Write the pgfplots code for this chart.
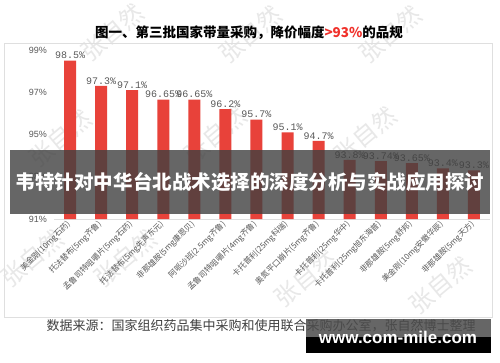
\documentclass[border=0pt]{standalone}
\usepackage{pgfplots}
\pgfplotsset{compat=1.18}
\usepackage{fontspec}
\setmainfont{Liberation Sans}
\newfontfamily\cjk{Noto Sans CJK SC}
\newfontfamily\mono{Liberation Mono}
\definecolor{barred}{HTML}{E8423A}
\definecolor{lab}{HTML}{595959}
\definecolor{titlered}{HTML}{F0302A}
\pgfplotstableread{
x y
0 98.5
1 97.3
2 97.1
3 96.65
4 96.65
5 96.2
6 95.7
7 95.1
8 94.7
9 93.8
10 93.74
11 93.65
12 93.4
13 93.3
}\drugs
\begin{document}
\begin{tikzpicture}
\path[use as bounding box, fill=white] (0,0) rectangle (500pt,362pt);
% watermarks
\foreach \px/\py in {112/32,250/34,390/34,60/138,215/135,365/135,32/258,125/258,305/278,440/285}{
  \node[rotate=40, text=gray!18, font=\cjk\fontsize{24}{24}\selectfont] at (\px pt,362pt-\py pt) {张自然};
}
\draw[gray!25, line width=0.8pt] (4.5pt,318.5pt) rectangle (492pt,45pt);
\node[font=\cjk\bfseries\fontsize{13.5}{14}\selectfont, text=black] at (249pt,362pt-33pt)
  {图一、第三批国家带量采购，降价幅度{\color{titlered}>93\%}的品规};
\begin{axis}[
  at={(54.5pt,143pt)}, anchor=south west,
  scale only axis, width=435pt, height=181.675pt,
  xmin=-0.5, xmax=13.5, ymin=91, ymax=99.6,
  ytick={91,93,95,97,99},
  yticklabel={\pgfmathprintnumber{\tick}\%},
  /pgf/number format/assume math mode=true,
  yticklabel style={font=\fontsize{9}{9}\selectfont, text=lab, xshift=-4pt},
  axis x line=bottom, axis y line=left,
  x axis line style={draw=gray!25, line width=1pt, -},
  y axis line style={draw=none},
  major tick length=0pt,
  xtick=data,
  xticklabels={美金刚(10mg石药),托法替布(5mg齐鲁),孟鲁司特咀嚼片(5mg石药),托法替布(5mg先声东元),非那雄胺(5mg康恩贝),阿哌沙班(2.5mg齐鲁),孟鲁司特咀嚼片(4mg齐鲁),卡托普利(25mg科瑞),奥氮平口崩片(5mg齐鲁),卡托普利(25mg华中),卡托普利(25mg旭东海普),非那雄胺(5mg舒邦),美金刚(10mg安徽华辰),非那雄胺(5mg天方)},
  xticklabel style={rotate=45, anchor=east, font=\cjk\fontsize{8}{8}\selectfont, text=lab, yshift=-2pt},
  nodes near coords={\pgfmathprintnumber[fixed,precision=2]{\pgfplotspointmeta}\%},
  nodes near coords style={font=\mono\fontsize{10}{10}\selectfont, text=lab, inner sep=1.5pt},
]
\addplot[ybar, bar width=12pt, fill=barred, draw=none] table[x=x,y=y] {\drugs};
\end{axis}
\node[anchor=west, font=\cjk\fontsize{13}{13}\selectfont, text=black!75] at (43pt,362pt-326pt)
  {数据来源：国家组织药品集中采购和使用联合采购办公室，张自然博士整理};
% overlay band
\fill[black!75, opacity=0.8] (10pt,362pt-150pt) rectangle (490pt,362pt-214pt);
\node[font=\cjk\bfseries\fontsize{19.5}{20}\selectfont, text=white] at (250pt,362pt-182pt)
  {韦特针对中华台北战术选择的深度分析与实战应用探讨};
% bottom box
\fill[black!70, opacity=0.85] (306pt,362pt-319pt) rectangle (491pt,362pt-337pt);
\fill[black] (306pt,362pt-337pt) rectangle (491pt,362pt-353pt);
\node[font=\bfseries\fontsize{17}{17}\selectfont, text=white] at (398pt,362pt-337pt) {www.com-mile.com};
\end{tikzpicture}
\end{document}
